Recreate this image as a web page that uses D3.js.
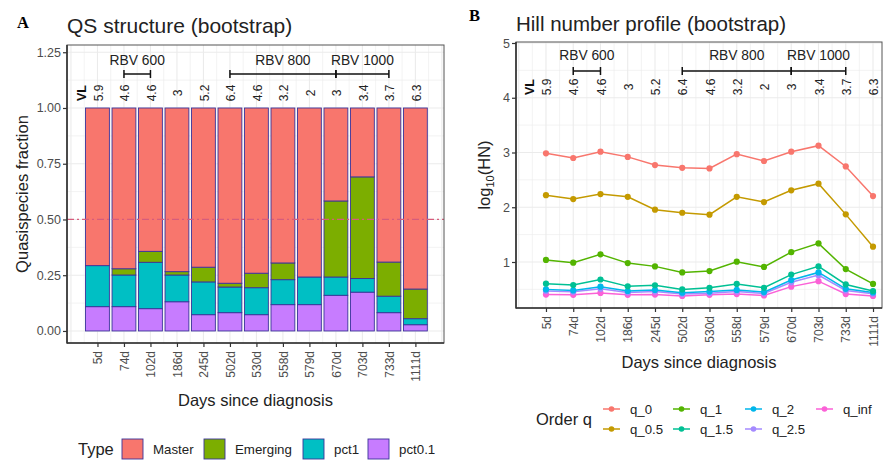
<!DOCTYPE html>
<html><head><meta charset="utf-8">
<script src="https://cdn.jsdelivr.net/npm/d3@7"></script>
<style>body{margin:0;background:#fff}svg{font-family:"Liberation Sans",Arial,sans-serif}</style>
</head><body>
<svg id="c" width="883" height="460"></svg>
<script>
const days = ["5d","74d","102d","186d","245d","502d","530d","558d","579d","670d","703d","733d","1111d"];
const vl = ["5.9","4.6","4.6","3","5.2","6.4","4.6","3.2","2","3","3.4","3.7","6.3"];
// stacked fractions (bottom to top)
const pct01   = [0.109,0.109,0.100,0.131,0.073,0.082,0.073,0.118,0.118,0.160,0.174,0.082,0.028];
const pct1    = [0.184,0.142,0.208,0.120,0.147,0.115,0.121,0.112,0.124,0.082,0.061,0.074,0.027];
const emerging= [0.000,0.028,0.049,0.015,0.066,0.017,0.065,0.075,0.000,0.341,0.456,0.153,0.133];
const master  = [0.707,0.721,0.643,0.734,0.714,0.786,0.741,0.695,0.758,0.417,0.309,0.691,0.812];
const typeNames = ["Master","Emerging","pct1","pct0.1"];
const typeColors = ["#F8766D","#7CAE00","#00BFC4","#C77CFF"];
// Hill numbers (log10)
const q_0   = [2.985,2.90,3.015,2.92,2.77,2.72,2.71,2.97,2.845,3.015,3.125,2.745,2.205];
const q_05  = [2.22,2.15,2.24,2.19,1.955,1.90,1.865,2.19,2.095,2.31,2.43,1.87,1.28];
const q_1   = [1.037,0.988,1.14,0.98,0.92,0.81,0.835,1.006,0.91,1.18,1.34,0.87,0.60];
const q_15  = [0.605,0.58,0.68,0.555,0.575,0.50,0.53,0.60,0.53,0.77,0.92,0.59,0.47];
const q_2   = [0.50,0.48,0.55,0.47,0.49,0.44,0.46,0.49,0.45,0.67,0.81,0.51,0.445];
const q_25  = [0.47,0.455,0.51,0.445,0.46,0.415,0.43,0.46,0.425,0.63,0.76,0.48,0.42];
const q_inf = [0.405,0.40,0.435,0.40,0.405,0.38,0.40,0.415,0.39,0.55,0.65,0.415,0.38];
const qNames = ["q_0","q_0.5","q_1","q_1.5","q_2","q_2.5","q_inf"];
const qColors = ["#F8766D","#C49A00","#53B400","#00C094","#00B6EB","#A58AFF","#FB61D7"];
const qSeries = [q_0,q_05,q_1,q_15,q_2,q_25,q_inf];
const yTicksA = [0,0.25,0.5,0.75,1.0,1.25];
const yTicksB = [1,2,3,4,5];
const rbv = [{label:"RBV 600",from:1,to:2},{label:"RBV 800",from:5,to:9},{label:"RBV 1000",from:9,to:11}];

const svg = d3.select("#c");
const gridC = "#ebebeb", txtC = "#4d4d4d";

function panel(o){
  const g = svg.append("g");
  const {x,y,L,R,T,B} = o;
  o.yMinor.forEach(v=>{ if(y(v)>=T && y(v)<=B) g.append("line").attr("x1",L).attr("x2",R).attr("y1",y(v)).attr("y2",y(v)).attr("stroke",gridC).attr("stroke-width",0.6);});
  d3.range(0,14.01,0.5).forEach(v=>{ if(x(v)>L && x(v)<R) g.append("line").attr("x1",x(v)).attr("x2",x(v)).attr("y1",T).attr("y2",B).attr("stroke",gridC).attr("stroke-width",Number.isInteger(v)?1.1:0.6);});
  o.yTicks.forEach(v=>{ if(y(v)>=T && y(v)<=B) g.append("line").attr("x1",L).attr("x2",R).attr("y1",y(v)).attr("y2",y(v)).attr("stroke",gridC).attr("stroke-width",1.1);});
  return g;
}
function frame(o){
  const {x,y,L,R,T,B} = o;
  const g = svg.append("g");
  g.append("rect").attr("x",L).attr("y",T).attr("width",R-L).attr("height",B-T).attr("fill","none").attr("stroke","#555").attr("stroke-width",1);
  g.append("line").attr("x1",L).attr("x2",L).attr("y1",T).attr("y2",B+0.5).attr("stroke","#333").attr("stroke-width",1.6);
  g.append("line").attr("x1",L).attr("x2",R).attr("y1",B).attr("y2",B).attr("stroke","#333").attr("stroke-width",1.6);
  const ya = d3.axisLeft(y).tickValues(o.yTicks).tickFormat(o.yFmt).tickSize(4).tickPadding(2);
  const gy = g.append("g").attr("transform",`translate(${L},0)`).call(ya);
  gy.select(".domain").remove();
  gy.selectAll("line").attr("stroke","#333").attr("stroke-width",1.2);
  gy.selectAll("text").attr("fill",txtC).attr("font-size",12.5).attr("font-family","Liberation Sans, Arial");
  const xa = d3.axisBottom(x).tickValues(d3.range(1,14)).tickFormat(i=>days[i-1]).tickSize(4).tickPadding(2);
  const gx = g.append("g").attr("transform",`translate(0,${B})`).call(xa);
  gx.select(".domain").remove();
  gx.selectAll("line").attr("stroke","#333").attr("stroke-width",1.2);
  gx.selectAll("text").attr("fill",txtC).attr("font-size",12).attr("font-family","Liberation Sans, Arial")
    .attr("transform","rotate(-90)").attr("text-anchor","end").attr("dy","0.35em").attr("x",-8).attr("y",0);
  return g;
}
function annot(o, bracketY, labelY, vlY){
  const {x} = o;
  const g = svg.append("g");
  rbv.forEach(r=>{
    const x1=x(r.from+1), x2=x(r.to+1);
    g.append("line").attr("x1",x1).attr("x2",x2).attr("y1",bracketY).attr("y2",bracketY).attr("stroke","#111").attr("stroke-width",1.5);
    [x1,x2].forEach(xx=>g.append("line").attr("x1",xx).attr("x2",xx).attr("y1",bracketY-4).attr("y2",bracketY+4).attr("stroke","#111").attr("stroke-width",1.5));
    g.append("text").attr("x",(x1+x2)/2).attr("y",labelY).attr("text-anchor","middle").attr("dy","0.35em").attr("font-size",13.8).attr("fill","#222").text(r.label);
  });
  vl.forEach((v,i)=>{
    g.append("text").attr("transform",`translate(${x(i+1)+1},${vlY}) rotate(-90)`).attr("text-anchor","middle").attr("dy","0.35em").attr("font-size",12).attr("fill","#222").text(v);
  });
  g.append("text").attr("transform",`translate(${x(0.4)},${vlY}) rotate(-90)`).attr("text-anchor","middle").attr("dy","0.35em").attr("font-size",12.5).attr("font-weight","bold").attr("fill","#111").text("VL");
}

// ---------- Panel A ----------
const A = {L:67,R:444,T:45,B:343};
A.x = d3.scaleLinear().domain([-0.15,14.08]).range([A.L,A.R]);
A.y = d3.scaleLinear().domain([-0.054,1.2825]).range([A.B,A.T]);
A.yTicks = yTicksA; A.yMinor = d3.range(0.125,1.3,0.25); A.yFmt = d3.format(".2f");
panel(A);
const stackData = days.map((d,i)=>({i, "pct0.1":pct01[i], pct1:pct1[i], Emerging:emerging[i], Master:master[i]}));
const stackKeys = ["pct0.1","pct1","Emerging","Master"];
const stacked = d3.stack().keys(stackKeys)(stackData);
const bw = 0.9*(A.x(1)-A.x(0));
stacked.forEach(s=>{
  const col = typeColors[typeNames.indexOf(s.key)];
  svg.append("g").selectAll("rect").data(s.filter(d=>d[1]-d[0]>0)).join("rect")
    .attr("x",d=>A.x(d.data.i+1)-bw/2).attr("width",bw)
    .attr("y",d=>A.y(d[1])).attr("height",d=>A.y(d[0])-A.y(d[1]))
    .attr("fill",col).attr("stroke","#3a3399").attr("stroke-width",0.9);
});
svg.append("line").attr("x1",A.L).attr("x2",A.R).attr("y1",A.y(0.5)).attr("y2",A.y(0.5))
  .attr("stroke","#d65c7c").attr("stroke-width",1.2).attr("stroke-dasharray","7,3,2,3");
frame(A);
annot(A, 74, 60, 93);
svg.append("text").attr("x",17).attr("y",28).attr("font-family","Liberation Serif, Times New Roman, serif").attr("font-weight","bold").attr("font-size",16.5).text("A");
svg.append("text").attr("x",67).attr("y",33).attr("font-size",21).attr("fill","#222").text("QS structure (bootstrap)");
svg.append("text").attr("transform",`translate(28,${(A.T+A.B)/2}) rotate(-90)`).attr("text-anchor","middle").attr("font-size",16.5).attr("fill","#222").text("Quasispecies fraction");
svg.append("text").attr("x",(A.L+A.R)/2).attr("y",406).attr("text-anchor","middle").attr("font-size",16.5).attr("fill","#222").text("Days since diagnosis");
// legend A
svg.append("text").attr("x",78).attr("y",455).attr("font-size",16.5).attr("fill","#222").text("Type");
const legX = [122,204,303,368];
typeNames.forEach((n,i)=>{
  svg.append("rect").attr("x",legX[i]).attr("y",439).attr("width",21).attr("height",20).attr("fill",typeColors[i]).attr("stroke","#3a3399").attr("stroke-width",0.9);
  svg.append("text").attr("x",legX[i]+31).attr("y",454).attr("font-size",13.3).attr("fill","#222").text(n);
});

// ---------- Panel B ----------
const Bp = {L:516,R:882,T:42,B:308};
Bp.x = d3.scaleLinear().domain([-0.1,13.33]).range([Bp.L,Bp.R]);
Bp.y = d3.scaleLinear().domain([0,5]).range([316.75,43]);
Bp.yTicks = yTicksB; Bp.yMinor = [0.5,1.5,2.5,3.5,4.5]; Bp.yFmt = d3.format("d");
panel(Bp);
const line = d3.line().x((d,i)=>Bp.x(i+1)).y(d=>Bp.y(d));
qSeries.slice().reverse().forEach((s,k)=>{
  const j = qSeries.length-1-k;
  svg.append("path").datum(s).attr("d",line).attr("fill","none").attr("stroke",qColors[j]).attr("stroke-width",1.5);
  svg.append("g").selectAll("circle").data(s).join("circle").attr("cx",(d,i)=>Bp.x(i+1)).attr("cy",d=>Bp.y(d)).attr("r",3.1).attr("fill",qColors[j]);
});
frame(Bp);
annot(Bp, 71, 55, 87);
svg.append("text").attr("x",469).attr("y",21).attr("font-family","Liberation Serif, Times New Roman, serif").attr("font-weight","bold").attr("font-size",16.5).text("B");
svg.append("text").attr("x",516).attr("y",31).attr("font-size",20.5).attr("fill","#222").text("Hill number profile (bootstrap)");
const yt = svg.append("text").attr("transform",`translate(490,${(Bp.T+Bp.B)/2}) rotate(-90)`).attr("text-anchor","middle").attr("font-size",16.5).attr("fill","#222");
yt.append("tspan").text("log");
yt.append("tspan").attr("font-size",11).attr("dy",4).text("10");
yt.append("tspan").attr("dy",-4).text("(HN)");
svg.append("text").attr("x",(Bp.L+Bp.R)/2).attr("y",368).attr("text-anchor","middle").attr("font-size",16.5).attr("fill","#222").text("Days since diagnosis");
// legend B
svg.append("text").attr("x",536).attr("y",425).attr("font-size",16.5).attr("fill","#222").text("Order q");
const colX = [603,673,745,816];
qNames.forEach((n,i)=>{
  const col = [0,0,1,1,2,2,3][i], row = i%2;
  const cx = colX[col], cy = 409 + row*20;
  svg.append("line").attr("x1",cx).attr("x2",cx+17).attr("y1",cy).attr("y2",cy).attr("stroke",qColors[i]).attr("stroke-width",1.5);
  svg.append("circle").attr("cx",cx+8.5).attr("cy",cy).attr("r",2.8).attr("fill",qColors[i]);
  svg.append("text").attr("x",cx+27).attr("y",cy).attr("dy","0.35em").attr("font-size",13.2).attr("fill","#222").text(n);
});
</script>
</body></html>
